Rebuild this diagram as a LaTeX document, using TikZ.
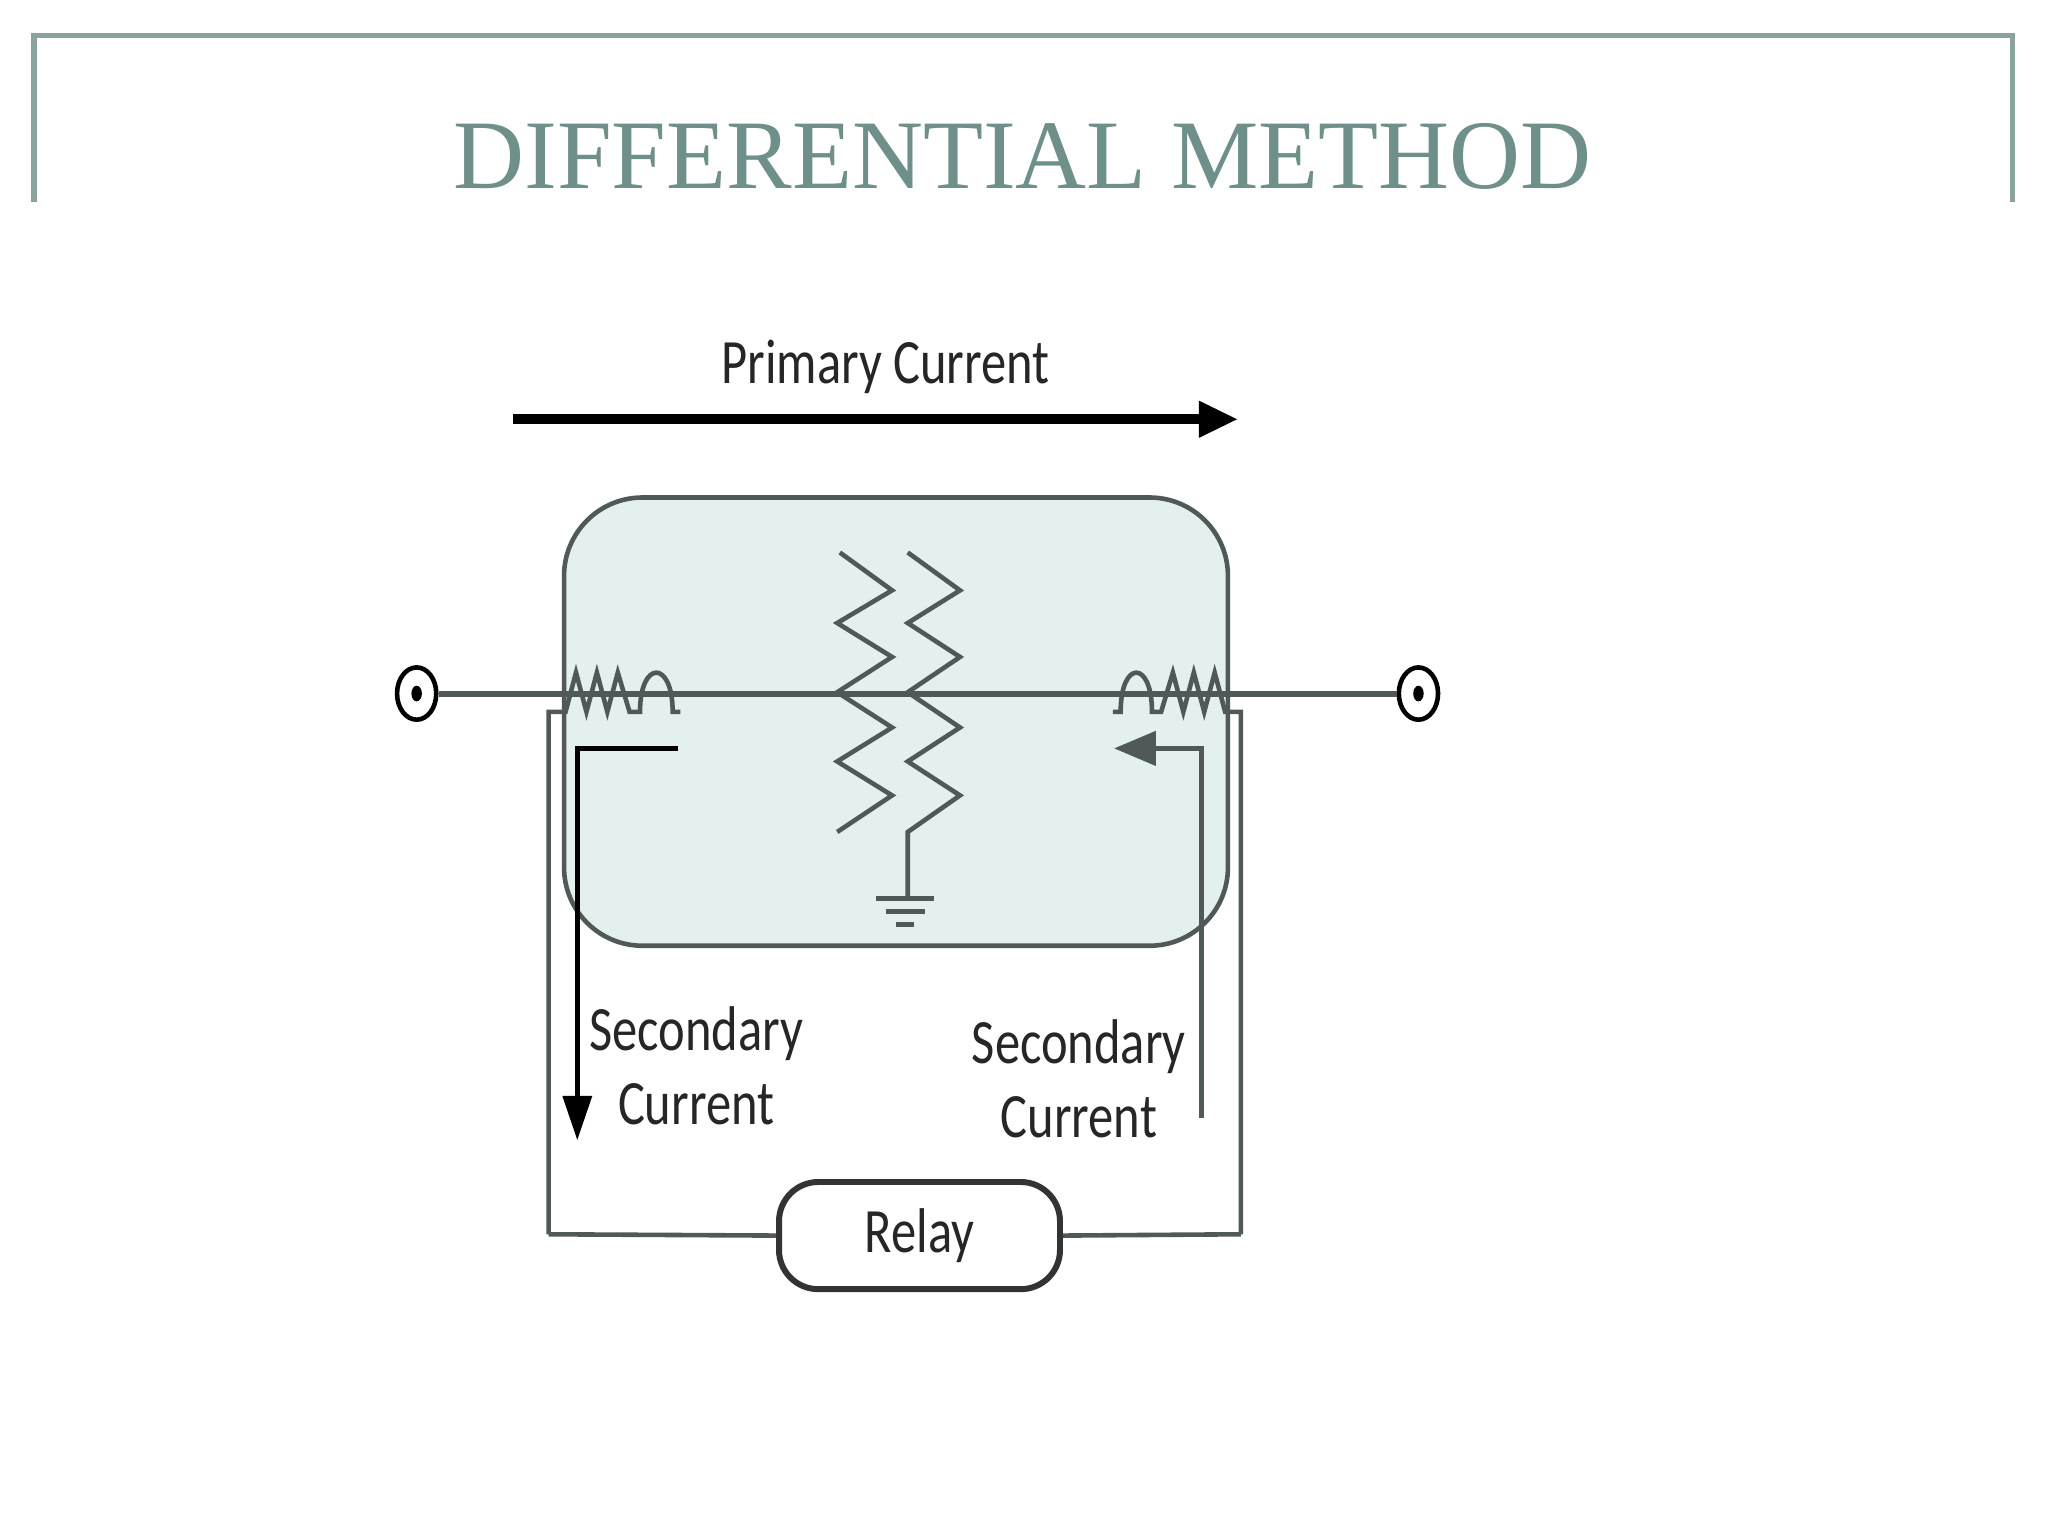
\documentclass[tikz,border=0pt]{standalone}
\usepackage{fontspec}
\setmainfont{Liberation Serif}
\newfontfamily\lab{Carlito}
\usetikzlibrary{arrows.meta,shapes.geometric}
\definecolor{frame}{HTML}{8AA39E}
\definecolor{ttl}{HTML}{6F8F8A}
\definecolor{wire}{HTML}{505858}
\definecolor{boxfill}{HTML}{E3F0EE}
\begin{document}
\begin{tikzpicture}[x=0.01cm,y=-0.01cm,
  w/.style={draw=wire,line width=1.3pt},
  lbl/.style={font=\lab\fontsize{11}{14}\selectfont,align=center,text=black!85,yscale=1.25,transform shape},
  tri/.style={-{Triangle[length=3.4mm,width=2.2mm]}}]
\useasboundingbox (0,0) rectangle (1568,1176);
\fill[white] (0,0) rectangle (1568,1176);
% frame
\draw[frame,line width=1.2pt] (26,155) -- (26,27) -- (1541,27) -- (1541,155);
\node[text=ttl,font=\fontsize{21.4}{24}\selectfont] (title) at (783,120) {DIFFERENTIAL METHOD};
% primary current
\node[lbl] (pc) at (678,281) {Primary Current};
\coordinate (pa) at (393,321); \coordinate (pb) at (948,321);
\draw[line width=2.2pt,-{Triangle[length=3mm,width=2.6mm]}] (pa) -- (pb);
% box
\node[draw=wire,fill=boxfill,line width=1pt,rounded corners=6mm,minimum width=50.8mm,minimum height=34.3mm,inner sep=0] (box) at (686,552.5) {};
% terminals
\node[draw=black,line width=1pt,ellipse,minimum width=3mm,minimum height=4mm,inner sep=0] (tl) at (319,531) {};
\node[draw=black,line width=1pt,ellipse,minimum width=3mm,minimum height=4mm,inner sep=0] (tr) at (1086,531) {};
\fill (319,531) ellipse (4 and 6);
\fill (1086,531) ellipse (4 and 6);
\draw[w] (tl.east) -- (tr.west);
% left CT
\draw[w,line width=1pt] (420,945) -- (420,545) -- (433,545) -- (441,515) -- (449,545) -- (457,515) -- (465,545) -- (473,515) -- (482,545) -- (490,545)
  .. controls (490,505) and (515,505) .. (515,545) -- (521,545);
% right CT
\draw[w,line width=1pt] (950,945) -- (950,545) -- (938,545) -- (930,515) -- (922,545) -- (914,515) -- (906,545) -- (898,515) -- (889,545) -- (882,545)
  .. controls (882,505) and (858,505) .. (858,545) -- (852,545);
% zigzags
\draw[w,line width=1pt] (643,423) -- (683,452) -- (641,477) -- (683,503) -- (641,530) -- (683,557) -- (641,583) -- (683,609) -- (641,637);
\draw[w,line width=1pt] (695,423) -- (735,452) -- (695,477) -- (735,503) -- (695,530) -- (735,557) -- (695,583) -- (735,609) -- (695,637) -- (695,688);
\draw[w,line width=1pt] (671,688) -- (715,688) (678,698) -- (708,698) (686,708) -- (700,708);
% secondary arrows
\coordinate (la0) at (519,573); \coordinate (la1) at (442,573); \coordinate (la2) at (442,873);
\draw[draw=black,line width=1pt,tri] (la0) -- (la1) -- (la2);
\coordinate (ra0) at (920,856); \coordinate (ra1) at (920,573); \coordinate (ra2) at (853,573);
\draw[w,line width=1pt,-{Triangle[length=3.2mm,width=2.6mm]}] (ra0) -- (ra1) -- (ra2);
\node[lbl] (s1) at (533,816) {Secondary\\[-1pt]Current};
\node[lbl] (s2) at (826,826) {Secondary\\[-1pt]Current};
% relay
\node[draw=black!80,line width=1.3pt,rounded corners=3mm,minimum width=21.5mm,minimum height=8.2mm,inner sep=0] (relay) at (704,946) {};
\node[lbl] (rl) at (relay) {Relay};
\draw[w,line width=1pt] (420,945) -- (relay.west) (relay.east) -- (950,945);
\end{tikzpicture}
\end{document}
